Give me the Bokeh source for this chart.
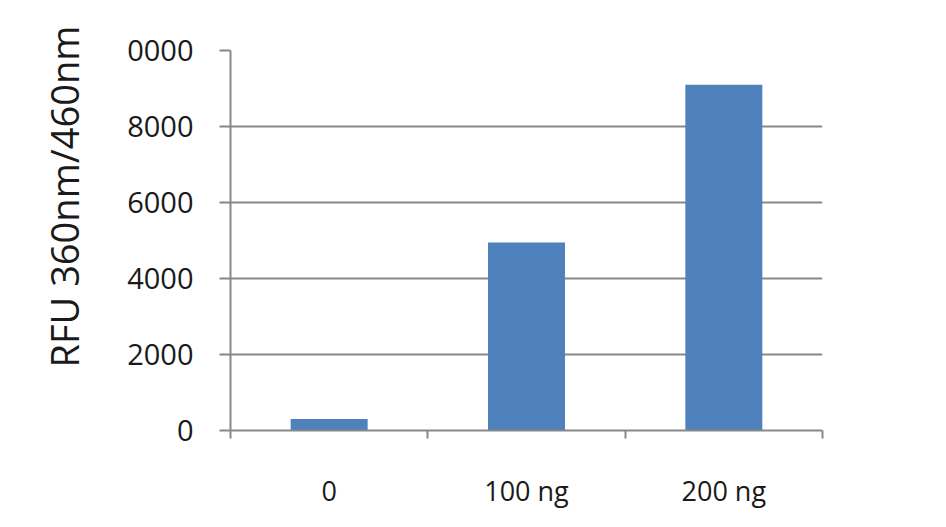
from bokeh.plotting import figure
from bokeh.models import Range1d, FixedTicker, Title, ColumnDataSource
from bokeh.embed import file_html
from bokeh.resources import INLINE

categories = ["0", "100 ng", "200 ng"]
values = [300, 4950, 9100]
y_ticks = [0, 2000, 4000, 6000, 8000, 10000]
y_tick_labels = ["0", "2000", "4000", "6000", "8000", "0000"]
y_label = "RFU 360nm/460nm"

x_centers = [i + 0.5 for i in range(len(categories))]
x_bounds = list(range(len(categories) + 1))

src = ColumnDataSource(dict(x=x_centers, top=values))

p = figure(width=930, height=511, output_backend="svg", toolbar_location=None,
           x_range=Range1d(0, len(categories)), y_range=Range1d(0, 10000),
           min_border_left=229, min_border_right=108, min_border_top=50,
           min_border_bottom=78)
p.outline_line_color = None
p.background_fill_color = "white"
p.border_fill_color = "white"

p.vbar(x="x", top="top", width=0.39, source=src, fill_color="#4f81bd",
       line_color=None)

AX = "#888888"
FONT = "Open Sans"

# x axis
xa = p.xaxis[0]
xa.ticker = FixedTicker(ticks=x_centers, minor_ticks=x_bounds)
xa.major_label_overrides = {c: l for c, l in zip(x_centers, categories)}
xa.major_tick_out = 0
xa.major_tick_in = 0
xa.minor_tick_out = 8
xa.minor_tick_in = 0
xa.minor_tick_line_color = AX
xa.minor_tick_line_width = 2
xa.axis_line_color = AX
xa.axis_line_width = 2
xa.major_label_standoff = 33
xa.major_label_text_font = FONT
xa.major_label_text_font_size = "27px"
xa.major_label_text_color = "#1a1a1a"

# y axis
ya = p.yaxis[0]
ya.ticker = FixedTicker(ticks=y_ticks, minor_ticks=[])
ya.major_label_overrides = {t: l for t, l in zip(y_ticks, y_tick_labels)}
ya.major_tick_out = 11
ya.major_tick_in = 0
ya.major_tick_line_color = AX
ya.major_tick_line_width = 2
ya.axis_line_color = AX
ya.axis_line_width = 2
ya.major_label_standoff = 26
ya.major_label_text_font = FONT
ya.major_label_text_font_size = "29px"
ya.major_label_text_color = "#1a1a1a"

p.xgrid.visible = False
p.ygrid.ticker = FixedTicker(ticks=y_ticks)
p.ygrid.grid_line_color = AX
p.ygrid.grid_line_width = 2

t = Title(text=y_label, align="left", offset=63,
          text_font=FONT, text_font_size="38px", text_font_style="normal",
          text_color="#1a1a1a")
if "standoff" in t.properties():
    t.standoff = 70
p.add_layout(t, "left")

open("out.html", "w").write(file_html(p, INLINE))
